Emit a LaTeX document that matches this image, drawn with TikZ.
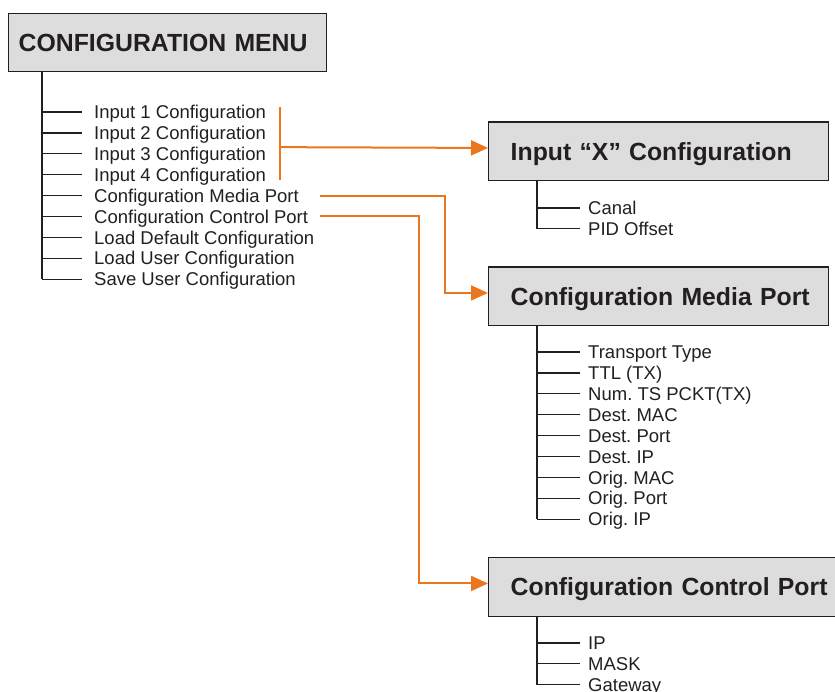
\documentclass[tikz,border=0pt]{standalone}
\usepackage{fontspec}
\setmainfont{Liberation Sans}
\usetikzlibrary{arrows.meta, positioning, calc}
\definecolor{boxgray}{RGB}{221,221,221}
\definecolor{ink}{RGB}{35,31,32}
\definecolor{wire}{RGB}{234,118,30}

\begin{document}
\frenchspacing
\begin{tikzpicture} [x=1pt, y=-1pt, ink,
	menu/.style = {draw = ink, fill = boxgray, line width = 1.4pt, anchor = north west, minimum height = 58.5pt,
		inner xsep = 22pt, align = left, text height = 17.8pt, text depth = 0pt, font = \fontsize{24.8}{28}\selectfont\bfseries},
	item/.style = {anchor = west, inner sep = 0pt, text height = 13.3pt, text depth = 0pt, font = \fontsize{18.5}{20}\selectfont},
	tree/.style = {line width = 1.3pt},
	link/.style = {wire, line width = 2pt},
	linkarrow/.style = {link, -{Triangle[length = 17pt, width = 15pt]}}]
			% Page frame
			\useasboundingbox (0,0) rectangle (835,692);
			% Top menu and its entries
			\node (cfg) [menu, inner xsep = 10pt, text width = 298pt, minimum height = 58pt] at (8,13) {CONFIGURATION MENU};
			\coordinate (cfgtrunk) at ($(cfg.south west)+(34,0)$);
			\foreach \txt [count = \i from 0] in {Input 1 Configuration, Input 2 Configuration, Input 3 Configuration,
				Input 4 Configuration, Configuration Media Port, Configuration Control Port,
				Load Default Configuration, Load User Configuration, Save User Configuration} {
				\node (m\i) [item] at (94,112+20.9*\i) {\txt};
				\draw [tree] (cfgtrunk |- m\i.west) -- ++(40,0);
			}
			\draw [tree] (cfgtrunk) -- (cfgtrunk |- m8.west);
			% Sub menus (the control port box runs past the page edge)
			\node (inX) [menu, text width = 296pt] at (488,121.5) {Input “X” Configuration};
			\node (mp) [menu, text width = 296pt] at (488,266.5) {\mbox{Configuration Media Port}};
			\node (cp) [menu, text width = 320pt] at (488,557) {Configuration Control Port};
			% Entries of the sub menus
			\coordinate (inXtrunk) at ($(inX.south west)+(49,0)$);
			\foreach \txt [count = \i from 0] in {Canal, PID Offset} {
				\node (x\i) [item] at (588,208+20.6*\i) {\txt};
				\draw [tree] (inXtrunk |- x\i.west) -- ++(43,0);
			}
			\draw [tree] (inXtrunk) -- (inXtrunk |- x1.west);
			\coordinate (mptrunk) at ($(mp.south west)+(49,0)$);
			\foreach \txt [count = \i from 0] in {Transport Type, TTL (TX), Num. TS PCKT(TX), Dest. MAC, Dest. Port,
				Dest. IP, Orig. MAC, Orig. Port, Orig. IP} {
				\node (p\i) [item] at (588,352+20.9*\i) {\txt};
				\draw [tree] (mptrunk |- p\i.west) -- ++(43,0);
			}
			\draw [tree] (mptrunk) -- (mptrunk |- p8.west);
			\coordinate (cptrunk) at ($(cp.south west)+(49,0)$);
			\foreach \txt [count = \i from 0] in {IP, MASK, Gateway} {
				\node (c\i) [item] at (588,643+20.8*\i) {\txt};
				\draw [tree] (cptrunk |- c\i.west) -- ++(43,0);
			}
			\draw [tree] (cptrunk) -- (cptrunk |- c2.west);
			% Orange links to the sub menus
			\coordinate (brtop) at (280,107);
			\coordinate (brbot) at (280,180);
			\coordinate (brmid) at ($(brtop)!0.55!(brbot)$);
			\draw [link] (brtop) -- (brbot);
			\draw [linkarrow] (brmid) -- ($(inX.west)+(0,-3.5)$);
			\draw [linkarrow] (320,0 |- m4.west) -| ($(mp.west)+(-43,-3.5)$) -- ($(mp.west)+(0,-3.5)$);
			\draw [linkarrow] (320,0 |- m5.west) -| ($(cp.west)+(-69,-3.5)$) -- ($(cp.west)+(0,-3.5)$);
		\end{tikzpicture}
\end{document}
